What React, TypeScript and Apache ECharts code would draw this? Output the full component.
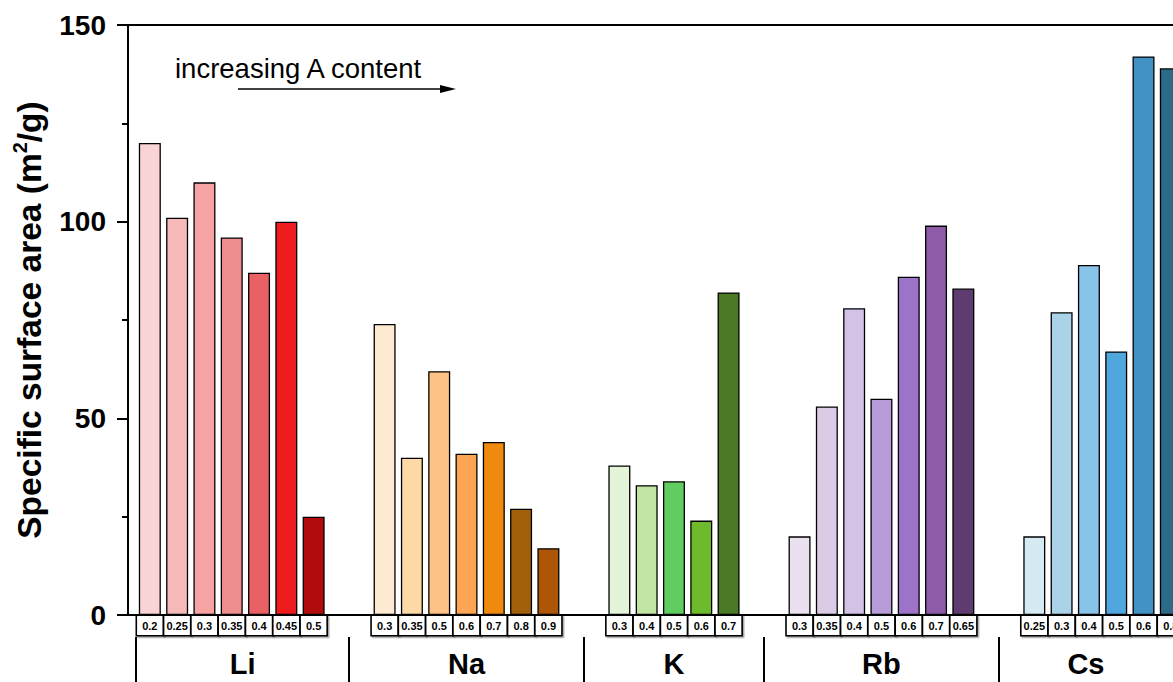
import React, { useEffect, useRef } from "react";
import * as echarts from "echarts";

const FONT = "'Liberation Sans', Arial, Helvetica, sans-serif";

// ---- data ----
const groups = ["Li", "Na", "K", "Rb", "Cs"];
const liLabels = ["0.2", "0.25", "0.3", "0.35", "0.4", "0.45", "0.5"];
const liValues = [120, 101, 110, 96, 87, 100, 25];
const naLabels = ["0.3", "0.35", "0.5", "0.6", "0.7", "0.8", "0.9"];
const naValues = [74, 40, 62, 41, 44, 27, 17];
const kLabels = ["0.3", "0.4", "0.5", "0.6", "0.7"];
const kValues = [38, 33, 34, 24, 82];
const rbLabels = ["0.3", "0.35", "0.4", "0.5", "0.6", "0.7", "0.65"];
const rbValues = [20, 53, 78, 55, 86, 99, 83];
const csLabels = ["0.25", "0.3", "0.4", "0.5", "0.6", "0.8"];
const csValues = [20, 77, 89, 67, 142, 139];

const liColors = ["#FAD3D5", "#F5B9B9", "#F8A3A3", "#EF8E8E", "#E96164", "#EE1C1E", "#B20B0C"];
const naColors = ["#FEEAD0", "#FDD9A6", "#FDC285", "#FCA653", "#EF8A0F", "#A3600C", "#AE5608"];
const kColors = ["#E3F4D9", "#C0E5A4", "#5FCD60", "#6DBB2D", "#4A7A24"];
const rbColors = ["#EBE0F0", "#DBCBE7", "#D3C2E6", "#B89BD9", "#9C73C9", "#8D5BA8", "#5F3C6F"];
const csColors = ["#D6EAF3", "#AAD3E8", "#88C3EA", "#50A7DE", "#4392C4", "#2D6A87"];

const yTicks = [0, 50, 100, 150];

// ---- layout (in axis units; one unit = one bar slot) ----
const GROUP_GAP = 2.6;
const X_MIN = -0.8;
const X_MAX = 37.48;

const groupData = [
  { labels: liLabels, values: liValues, colors: liColors },
  { labels: naLabels, values: naValues, colors: naColors },
  { labels: kLabels, values: kValues, colors: kColors },
  { labels: rbLabels, values: rbValues, colors: rbColors },
  { labels: csLabels, values: csValues, colors: csColors },
];

const key = (v: number) => v.toFixed(3);

export default function App() {
  const ref = useRef<HTMLDivElement>(null);

  useEffect(() => {
    if (!ref.current) return;
    const chart = echarts.init(ref.current, null, { renderer: "svg" });

    const barItems: any[] = [];
    const barPositions: number[] = [];
    const barLabelMap = new Map<string, string>();
    const groupStarts: number[] = [];
    const groupEnds: number[] = [];
    let pos = 0;
    groupData.forEach((g, gi) => {
      if (gi > 0) pos += GROUP_GAP - 1;
      groupStarts.push(pos);
      g.values.forEach((v, i) => {
        barItems.push({ value: [pos, v], itemStyle: { color: g.colors[i] } });
        barPositions.push(pos);
        barLabelMap.set(key(pos), g.labels[i]);
        pos += 1;
      });
      groupEnds.push(pos - 1);
    });

    const separators: number[] = [groupStarts[0] - 0.5];
    for (let i = 1; i < groups.length; i++) {
      separators.push((groupEnds[i - 1] + groupStarts[i]) / 2);
    }
    const groupCenters: number[] = [];
    const groupLabelMap = new Map<string, string>();
    groups.forEach((name, i) => {
      const right = i + 1 < separators.length ? separators[i + 1] : X_MAX;
      const c = (separators[i] + right) / 2;
      groupCenters.push(c);
      groupLabelMap.set(key(c), name);
    });

    chart.setOption({
      animation: false,
      grid: {
        left: 128,
        right: 0,
        top: 25,
        bottom: 67,
        containLabel: false,
        outerBoundsMode: "none",
      },
      xAxis: [
        {
          type: "value",
          min: X_MIN,
          max: X_MAX,
          position: "bottom",
          splitLine: { show: false },
          axisLine: { show: true, onZero: false, lineStyle: { color: "#000", width: 2 } },
          axisTick: { show: false },
          axisLabel: {
            // empty sentinels at both ends so that no real box label is treated as min/max label
            customValues: [X_MIN, ...barPositions, X_MAX],
            showMinLabel: false,
            showMaxLabel: false,
            hideOverlap: false,
            formatter: (v: number) => {
              const t = barLabelMap.get(key(v));
              return t ? `{b|${t}}` : "";
            },
            margin: 1,
            rich: {
              b: {
                fontFamily: FONT,
                fontWeight: "bold",
                fontSize: 11,
                color: "#000",
                width: 25.5,
                height: 19,
                lineHeight: 19,
                align: "center",
                verticalAlign: "middle",
                backgroundColor: "#fff",
                borderColor: "#000",
                borderWidth: 1.6,
                shadowColor: "rgba(0,0,0,0.35)",
                shadowOffsetX: 1.5,
                shadowOffsetY: 1.5,
                shadowBlur: 0,
              },
            },
          },
        },
        {
          type: "value",
          min: X_MIN,
          max: X_MAX,
          position: "bottom",
          offset: 22,
          splitLine: { show: false },
          axisLine: { show: false, onZero: false },
          axisTick: {
            show: true,
            customValues: separators,
            length: 48,
            lineStyle: { color: "#000", width: 2 },
          },
          axisLabel: {
            customValues: groupCenters,
            showMinLabel: true,
            showMaxLabel: true,
            hideOverlap: false,
            formatter: (v: number) => groupLabelMap.get(key(v)) ?? "",
            margin: 12,
            fontFamily: FONT,
            fontWeight: "bold",
            fontSize: 29,
            color: "#000",
          },
        },
        {
          type: "value",
          min: X_MIN,
          max: X_MAX,
          position: "top",
          splitLine: { show: false },
          axisLine: { show: true, onZero: false, lineStyle: { color: "#000", width: 2 } },
          axisTick: { show: false },
          axisLabel: { show: false },
        },
      ],
      yAxis: {
        type: "value",
        min: yTicks[0],
        max: yTicks[yTicks.length - 1],
        interval: 50,
        splitLine: { show: false },
        axisLine: { show: true, onZero: false, lineStyle: { color: "#000", width: 2 } },
        axisTick: { show: true, length: 11, lineStyle: { color: "#000", width: 2 } },
        minorTick: { show: true, splitNumber: 2, length: 6, lineStyle: { color: "#000", width: 2 } },
        axisLabel: {
          margin: 22,
          fontFamily: FONT,
          fontWeight: "bold",
          fontSize: 28,
          color: "#000",
        },
        name: "{a|Specific surface area (m}{s|2}{a|/g)}",
        nameLocation: "middle",
        nameGap: 80,
        nameTextStyle: {
          rich: {
            a: { fontFamily: FONT, fontWeight: "bold", fontSize: 33.5, color: "#000", lineHeight: 38 },
            s: { fontFamily: FONT, fontWeight: "bold", fontSize: 20, color: "#000", verticalAlign: "top", lineHeight: 22 },
          },
        },
      },
      graphic: [
        {
          type: "text",
          left: 175,
          top: 54,
          style: { text: "increasing A content", fontFamily: FONT, fontSize: 27.5, fill: "#000" },
        },
        {
          type: "line",
          shape: { x1: 238, y1: 89, x2: 443, y2: 89 },
          style: { stroke: "#000", lineWidth: 1.5 },
        },
        {
          type: "polygon",
          shape: { points: [[440, 85], [456, 89], [440, 93]] },
          style: { fill: "#000" },
        },
      ],
      series: [
        {
          type: "bar",
          xAxisIndex: 0,
          yAxisIndex: 0,
          barWidth: 22,
          data: barItems,
          itemStyle: { borderColor: "#000", borderWidth: 1.3 },
        },
      ],
    });

    return () => chart.dispose();
  }, []);

  return (
    <div
      ref={ref}
      style={{ position: "absolute", left: 0, top: 0, width: 1173, height: 682, background: "#fff" }}
    />
  );
}
